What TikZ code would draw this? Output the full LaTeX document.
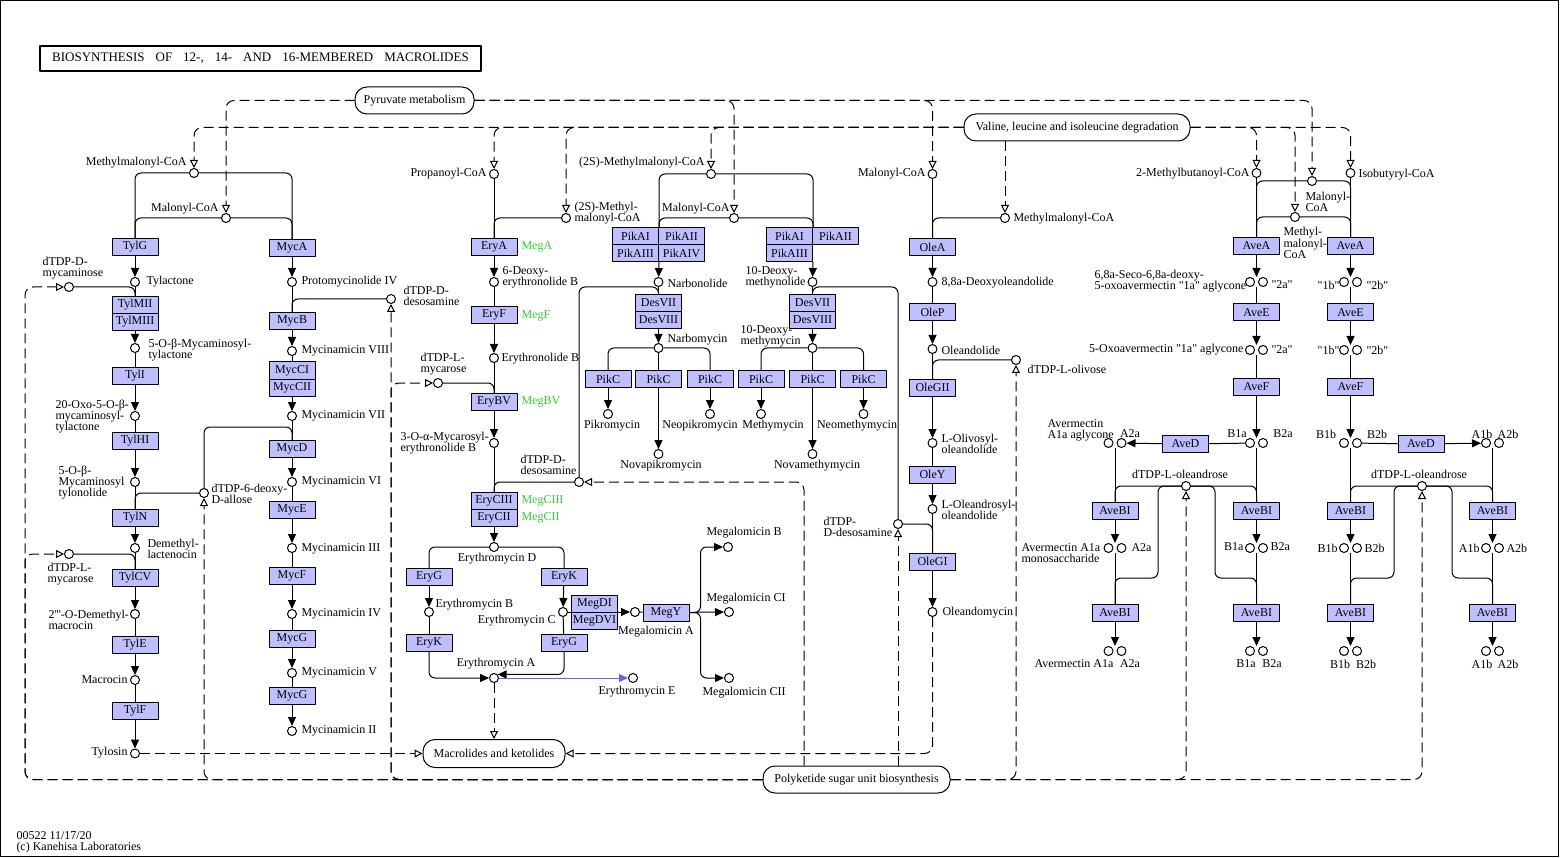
\documentclass[tikz,border=0pt]{standalone}
\usepackage{fontspec}
\setmainfont{Liberation Serif}[Ligatures=TeXOff]
\usetikzlibrary{arrows.meta}
\definecolor{enzfill}{RGB}{191,191,255}
\definecolor{keggreen}{RGB}{51,204,51}
\definecolor{keggblue}{RGB}{102,102,221}
\newcommand{\kfont}{\fontsize{12}{11}\selectfont}
% two compound circles side by side, one invisible box for the arrows
\newcommand{\cpdpair}[2]{%
  \node[pairbox] (#1) at (#2) {};
  \node[cpd] (#1-a) at ([xshift=-6.5pt]#1.center) {};
  \node[cpd] (#1-b) at ([xshift=6.5pt]#1.center) {};}
\tikzset{
  cpd/.style={circle, draw, fill=white, inner sep=0pt, minimum size=9pt},
  enz/.style={draw, fill=enzfill, inner sep=0pt, minimum width=46pt, minimum height=17pt, font=\kfont},
  pairbox/.style={inner sep=0pt, minimum width=22pt, minimum height=9pt},
  mapbox/.style={draw, rounded corners=12pt, inner sep=0pt, minimum height=27pt, font=\kfont},
  lab/.style={inner sep=0pt, font=\kfont, align=left},
  glab/.style={lab, text=keggreen},
  ln/.style={rounded corners=6pt},
  rxn/.style={ln, -{Triangle[length=9pt, width=8pt]}},
  link/.style={rounded corners=8pt, dash pattern=on 10pt off 5pt, -{Triangle[open, length=8pt, width=8pt]}},
}
\begin{document}
\begin{tikzpicture}[x=1pt, y=-1pt, line width=1pt, line join=round]

  %% ==== frame and title ====
  \draw[line width=1.2pt] (0.6,0.6) rectangle (1558.4,856.4);
  \node[draw, line width=1.5pt, minimum width=441pt, minimum height=25pt, inner sep=0pt,
        font=\fontsize{13}{13}\selectfont] (title) at (260.5,58.5)
        {\spaceskip=11pt BIOSYNTHESIS OF 12-, 14- AND 16-MEMBERED MACROLIDES};

  %% ==== map boxes ====
  \node[mapbox, minimum width=119pt] (pyr) at (414.5,100.5) {Pyruvate metabolism};
  \node[mapbox, minimum width=226pt] (val) at (1077,127.5) {Valine, leucine and isoleucine degradation};
  \node[mapbox, minimum width=142pt, minimum height=28pt] (macro) at (494,753.5) {Macrolides and ketolides};
  \node[mapbox, minimum width=187pt] (pks) at (856.5,779.5) {Polyketide sugar unit biosynthesis};

  %% ==== tylosin column ====
  \node[cpd] (c-mm1) at (194,173) {};
  \node[cpd] (c-mal1) at (226,218) {};
  \node[cpd] (c-mycam) at (69,287) {};
  \node[cpd] (c-tylac) at (135,282) {};
  \node[cpd] (c-myctyl) at (135,348) {};
  \node[cpd] (c-oxo) at (135,416) {};
  \node[cpd] (c-mycty) at (135,482) {};
  \node[cpd] (c-allose) at (204,493) {};
  \node[cpd] (c-demeth) at (135,548) {};
  \node[cpd] (c-mycar1) at (69,554) {};
  \node[cpd] (c-demmac) at (135,614) {};
  \node[cpd] (c-macrocin) at (135,680) {};
  \node[cpd] (c-tylosin) at (135,753.5) {};
  \node[enz] (tylg) at (135,247) {TylG};
  \node[enz] (tylmii) at (135,305) {TylMII};
  \node[enz] (tylmiii) at (135,322) {TylMIII};
  \node[enz] (tyli) at (135,376) {TylI};
  \node[enz] (tylhi) at (135,441) {TylHI};
  \node[enz] (tyln) at (135,518) {TylN};
  \node[enz] (tylcv) at (135,578) {TylCV};
  \node[enz] (tyle) at (135,645) {TylE};
  \node[enz] (tylf) at (135,711) {TylF};
  \node[lab, anchor=east] (l-mm1) at (187,163) {Methylmalonyl-CoA};
  \node[lab, anchor=east] (l-mal1) at (219,209) {Malonyl-CoA};
  \node[lab, anchor=west] (l-mycam) at (42,268) {dTDP-D-\\mycaminose};
  \node[lab, anchor=west] (l-tylac) at (146,282) {Tylactone};
  \node[lab, anchor=west] (l-myctyl) at (148,350) {5-O-β-Mycaminosyl-\\tylactone};
  \node[lab, anchor=west] (l-oxo) at (55,417) {20-Oxo-5-O-β-\\mycaminosyl-\\tylactone};
  \node[lab, anchor=west] (l-mycty) at (58,483) {5-O-β-\\Mycaminosyl\\tylonolide};
  \node[lab, anchor=west] (l-allose) at (211,494) {dTDP-6-deoxy-\\D-allose};
  \node[lab, anchor=west] (l-demeth) at (147,549) {Demethyl-\\lactenocin};
  \node[lab, anchor=west] (l-mycar1) at (47,574) {dTDP-L-\\mycarose};
  \node[lab, anchor=west] (l-demmac) at (48,620) {2'''-O-Demethyl-\\macrocin};
  \node[lab, anchor=east] (l-macrocin) at (128,680) {Macrocin};
  \node[lab, anchor=east] (l-tylosin) at (128,753) {Tylosin};

  %% ==== mycinamicin column ====
  \node[cpd] (c-proto) at (292,282) {};
  \node[cpd] (c-desos1) at (391,299) {};
  \node[cpd] (c-m8) at (292,351) {};
  \node[cpd] (c-m7) at (292,416) {};
  \node[cpd] (c-m6) at (292,482) {};
  \node[cpd] (c-m3) at (292,548) {};
  \node[cpd] (c-m4) at (292,614) {};
  \node[cpd] (c-m5) at (292,673) {};
  \node[cpd] (c-m2) at (292,731) {};
  \node[enz] (myca) at (292,248) {MycA};
  \node[enz] (mycb) at (292,321) {MycB};
  \node[enz] (mycci) at (292,370.5) {MycCI};
  \node[enz] (myccii) at (292,387.5) {MycCII};
  \node[enz] (mycd) at (292,449) {MycD};
  \node[enz] (myce) at (292,510) {MycE};
  \node[enz] (mycf) at (292,576) {MycF};
  \node[enz] (mycg1) at (292,639) {MycG};
  \node[enz] (mycg2) at (292,696) {MycG};
  \node[lab, anchor=west] (l-proto) at (301,282) {Protomycinolide IV};
  \node[lab, anchor=west] (l-desos1) at (403,296) {dTDP-D-\\desosamine};
  \node[lab, anchor=west] (l-m8) at (301,351) {Mycinamicin VIII};
  \node[lab, anchor=west] (l-m7) at (301,416) {Mycinamicin VII};
  \node[lab, anchor=west] (l-m6) at (301,482) {Mycinamicin VI};
  \node[lab, anchor=west] (l-m3) at (301,549) {Mycinamicin III};
  \node[lab, anchor=west] (l-m4) at (301,614) {Mycinamicin IV};
  \node[lab, anchor=west] (l-m5) at (301,673) {Mycinamicin V};
  \node[lab, anchor=west] (l-m2) at (301,731) {Mycinamicin II};

  %% ==== erythromycin column ====
  \node[cpd] (c-prop) at (494,174) {};
  \node[cpd] (c-s2mm1) at (566,218) {};
  \node[cpd] (c-deb) at (494,282) {};
  \node[cpd] (c-eb) at (494,358) {};
  \node[cpd] (c-mycar2) at (438,383) {};
  \node[cpd] (c-myceb) at (494,443) {};
  \node[cpd] (c-desos2) at (579,482) {};
  \node[cpd] (c-eryd) at (494,547) {};
  \node[cpd] (c-eryb) at (429,612) {};
  \node[cpd] (c-eryc) at (563,612) {};
  \node[cpd] (c-erya) at (494,678) {};
  \node[cpd] (c-erye) at (633,678) {};
  \node[cpd] (c-mega) at (635,612) {};
  \node[cpd] (c-megb) at (728,547) {};
  \node[cpd] (c-megci) at (729,612) {};
  \node[cpd] (c-megcii) at (729,678) {};
  \node[enz] (erya) at (494,247) {EryA};
  \node[enz] (eryf) at (494,315) {EryF};
  \node[enz] (erybv) at (494,402) {EryBV};
  \node[enz] (eryciii) at (494,501) {EryCIII};
  \node[enz] (erycii) at (494,518) {EryCII};
  \node[enz] (eryg1) at (429,577) {EryG};
  \node[enz] (eryk1) at (564,577) {EryK};
  \node[enz] (eryk2) at (429,643) {EryK};
  \node[enz] (eryg2) at (564,643) {EryG};
  \node[enz] (megdi) at (594.5,604) {MegDI};
  \node[enz] (megdvi) at (594.5,621) {MegDVI};
  \node[enz] (megy) at (666,612.5) {MegY};
  \node[lab, anchor=east] (l-prop) at (487,174) {Propanoyl-CoA};
  \node[lab, anchor=west] (l-s2mm1) at (574,213) {(2S)-Methyl-\\malonyl-CoA};
  \node[glab, anchor=west] (g-mega) at (521,247) {MegA};
  \node[lab, anchor=west] (l-deb) at (502,277) {6-Deoxy-\\erythronolide B};
  \node[glab, anchor=west] (g-megf) at (521,316) {MegF};
  \node[lab, anchor=west] (l-eb) at (501,359) {Erythronolide B};
  \node[lab, anchor=west] (l-mycar2) at (420,364) {dTDP-L-\\mycarose};
  \node[glab, anchor=west] (g-megbv) at (521,402) {MegBV};
  \node[lab, anchor=west] (l-myceb) at (400,443) {3-O-α-Mycarosyl-\\erythronolide B};
  \node[lab, anchor=west] (l-desos2) at (520,465) {dTDP-D-\\desosamine};
  \node[glab, anchor=west] (g-megciii) at (521,501) {MegCIII};
  \node[glab, anchor=west] (g-megcii) at (521,518) {MegCII};
  \node[lab] (l-eryd) at (497,559) {Erythromycin D};
  \node[lab, anchor=west] (l-eryb) at (435,605) {Erythromycin B};
  \node[lab, anchor=east] (l-eryc) at (556,621) {Erythromycin C};
  \node[lab] (l-erya) at (496,664) {Erythromycin A};
  \node[lab] (l-erye) at (637,692) {Erythromycin E};
  \node[lab] (l-mega) at (656,632) {Megalomicin A};
  \node[lab, anchor=west] (l-megb) at (706,533) {Megalomicin B};
  \node[lab, anchor=west] (l-megci) at (706,599) {Megalomicin CI};
  \node[lab, anchor=west] (l-megcii) at (702,693) {Megalomicin CII};

  %% ==== pikromycin / methymycin ====
  \node[cpd] (c-s2mm2) at (711,174) {};
  \node[cpd] (c-mal2) at (734,218) {};
  \node[cpd] (c-narbo) at (658.5,282) {};
  \node[cpd] (c-narbom) at (658.5,348) {};
  \node[cpd] (c-pikro) at (608,414) {};
  \node[cpd] (c-neopik) at (710,414) {};
  \node[cpd] (c-novapik) at (658.5,454) {};
  \node[cpd] (c-dmn) at (812.5,282) {};
  \node[cpd] (c-dmm) at (812.5,348) {};
  \node[cpd] (c-methy) at (761,414) {};
  \node[cpd] (c-neometh) at (863.5,414) {};
  \node[cpd] (c-novameth) at (812.5,454) {};
  \node[cpd] (c-dsm3) at (898,524) {};
  \node[enz] (pikai1) at (635.5,236) {PikAI};
  \node[enz] (pikaii1) at (681.5,236) {PikAII};
  \node[enz] (pikaiii1) at (635.5,253) {PikAIII};
  \node[enz] (pikaiv1) at (681.5,253) {PikAIV};
  \node[enz] (desvii1) at (658.5,303) {DesVII};
  \node[enz] (desviii1) at (658.5,320) {DesVIII};
  \node[enz] (pikc1) at (608,379) {PikC};
  \node[enz] (pikc2) at (658.5,379) {PikC};
  \node[enz] (pikc3) at (710,379) {PikC};
  \node[enz] (pikai2) at (789.5,236) {PikAI};
  \node[enz] (pikaii2) at (835.5,236) {PikAII};
  \node[enz] (pikaiii2) at (789.5,253) {PikAIII};
  \node[enz] (desvii2) at (812.5,303) {DesVII};
  \node[enz] (desviii2) at (812.5,320) {DesVIII};
  \node[enz] (pikc4) at (761,379) {PikC};
  \node[enz] (pikc5) at (812.5,379) {PikC};
  \node[enz] (pikc6) at (863.5,379) {PikC};
  \node[lab, anchor=east] (l-s2mm2) at (705,163) {(2S)-Methylmalonyl-CoA};
  \node[lab, anchor=east] (l-mal2) at (730,209) {Malonyl-CoA};
  \node[lab, anchor=west] (l-narbo) at (667,283) {Narbonolide};
  \node[lab, anchor=west] (l-narbom) at (667,340) {Narbomycin};
  \node[lab] (l-pikro) at (612,426) {Pikromycin};
  \node[lab] (l-neopik) at (700,426) {Neopikromycin};
  \node[lab] (l-novapik) at (661,466) {Novapikromycin};
  \node[lab, anchor=west] (l-dmn) at (745,277) {10-Deoxy-\\methynolide};
  \node[lab, anchor=west] (l-dmm) at (740,336) {10-Deoxy-\\methymycin};
  \node[lab] (l-methy) at (773,426) {Methymycin};
  \node[lab] (l-neometh) at (857,426) {Neomethymycin};
  \node[lab] (l-novameth) at (817,466) {Novamethymycin};
  \node[lab, anchor=west] (l-dsm3) at (823,527) {dTDP-\\D-desosamine};

  %% ==== oleandomycin column ====
  \node[cpd] (c-mal3) at (932.5,174) {};
  \node[cpd] (c-mm3) at (1005,218) {};
  \node[cpd] (c-ddol) at (932.5,282) {};
  \node[cpd] (c-oleand) at (932.5,349) {};
  \node[cpd] (c-olivose) at (1016,360) {};
  \node[cpd] (c-olivosyl) at (932.5,443) {};
  \node[cpd] (c-oleandrosyl) at (932.5,509) {};
  \node[cpd] (c-oleandomycin) at (932.5,612) {};
  \node[enz] (olea) at (932.5,247) {OleA};
  \node[enz] (olep) at (932.5,312.5) {OleP};
  \node[enz] (olegii) at (932.5,387.5) {OleGII};
  \node[enz] (oley) at (932.5,474.5) {OleY};
  \node[enz] (olegi) at (932.5,561.5) {OleGI};
  \node[lab, anchor=east] (l-mal3) at (926,174) {Malonyl-CoA};
  \node[lab, anchor=west] (l-mm3) at (1013,219) {Methylmalonyl-CoA};
  \node[lab, anchor=west] (l-ddol) at (941,283) {8,8a-Deoxyoleandolide};
  \node[lab, anchor=west] (l-oleand) at (941,350) {Oleandolide};
  \node[lab, anchor=west] (l-olivose) at (1027,369) {dTDP-L-olivose};
  \node[lab, anchor=west] (l-olivosyl) at (941,444) {L-Olivosyl-\\oleandolide};
  \node[lab, anchor=west] (l-oleandrosyl) at (941,510) {L-Oleandrosyl-\\oleandolide};
  \node[lab, anchor=west] (l-oleandomycin) at (942,613) {Oleandomycin};

  %% ==== avermectin ====
  \node[cpd] (c-mbcoa) at (1256.5,173) {};
  \node[cpd] (c-ibcoa) at (1350.5,173) {};
  \node[cpd] (c-mal4) at (1312,181) {};
  \node[cpd] (c-mm4) at (1295,217) {};
  \node[cpd] (c-oleandr1) at (1186,486) {};
  \node[cpd] (c-oleandr2) at (1422,486) {};
  \cpdpair{p-seco}{1256.5,282}
  \cpdpair{p-seco2}{1350.5,282}
  \cpdpair{p-oxo}{1256.5,350}
  \cpdpair{p-oxo2}{1350.5,350}
  \cpdpair{p-b1a}{1256.5,443}
  \cpdpair{p-b1b}{1350.5,443}
  \cpdpair{p-a1a}{1115,443}
  \cpdpair{p-a1b}{1492.5,443}
  \cpdpair{p-mono}{1115,548}
  \cpdpair{p-b1a2}{1256.5,548}
  \cpdpair{p-b1b2}{1350.5,548}
  \cpdpair{p-a1b2}{1492.5,548}
  \cpdpair{p-fin1}{1115,651}
  \cpdpair{p-fin2}{1256.5,651}
  \cpdpair{p-fin3}{1350.5,651}
  \cpdpair{p-fin4}{1492.5,651}
  \node[enz] (avea1) at (1256.5,246) {AveA};
  \node[enz] (avea2) at (1350.5,246) {AveA};
  \node[enz] (avee1) at (1256.5,312.5) {AveE};
  \node[enz] (avee2) at (1350.5,312.5) {AveE};
  \node[enz] (avef1) at (1256.5,386.5) {AveF};
  \node[enz] (avef2) at (1350.5,386.5) {AveF};
  \node[enz] (aved1) at (1185.5,444) {AveD};
  \node[enz] (aved2) at (1421,444) {AveD};
  \node[enz] (avebi1) at (1115,511) {AveBI};
  \node[enz] (avebi2) at (1256.5,511) {AveBI};
  \node[enz] (avebi3) at (1350.5,511) {AveBI};
  \node[enz] (avebi4) at (1492.5,511) {AveBI};
  \node[enz] (avebi5) at (1115,613) {AveBI};
  \node[enz] (avebi6) at (1256.5,613) {AveBI};
  \node[enz] (avebi7) at (1350.5,613) {AveBI};
  \node[enz] (avebi8) at (1492.5,613) {AveBI};
  \node[lab, anchor=east] (l-mbcoa) at (1250,174) {2-Methylbutanoyl-CoA};
  \node[lab, anchor=west] (l-ibcoa) at (1358,175) {Isobutyryl-CoA};
  \node[lab, anchor=west, font=\fontsize{12}{10}\selectfont] (l-mal4) at (1305,202) {Malonyl-\\CoA};
  \node[lab, anchor=west, font=\fontsize{12}{10}\selectfont] (l-mm4) at (1283,243) {Methyl-\\malonyl-\\CoA};
  \node[lab, anchor=west] (l-seco) at (1094,281) {6,8a-Seco-6,8a-deoxy-\\5-oxoavermectin "1a" aglycone};
  \node[lab, anchor=west] (l-seco-2a) at (1271,285) {"2a"};
  \node[lab, anchor=east] (l-seco-1b) at (1340,285) {"1b"};
  \node[lab, anchor=west] (l-seco-2b) at (1366,285) {"2b"};
  \node[lab, anchor=east] (l-oxo5) at (1244,350) {5-Oxoavermectin "1a" aglycone};
  \node[lab, anchor=west] (l-oxo-2a) at (1271,350) {"2a"};
  \node[lab, anchor=east] (l-oxo-1b) at (1340,350) {"1b"};
  \node[lab, anchor=west] (l-oxo-2b) at (1366,350) {"2b"};
  \node[lab] (l-b1a) at (1237,434) {B1a};
  \node[lab] (l-b2a) at (1283,434) {B2a};
  \node[lab] (l-b1b) at (1326,434) {B1b};
  \node[lab] (l-b2b) at (1377,434) {B2b};
  \node[lab, anchor=west] (l-a1aag) at (1047,430) {Avermectin\\A1a aglycone};
  \node[lab] (l-a2a) at (1130,434) {A2a};
  \node[lab] (l-a1b) at (1482,434) {A1b};
  \node[lab] (l-a2b) at (1508,434) {A2b};
  \node[lab] (l-ole1) at (1180,474) {dTDP-L-oleandrose};
  \node[lab] (l-ole2) at (1419,474) {dTDP-L-oleandrose};
  \node[lab, anchor=west] (l-mono) at (1021,553) {Avermectin A1a\\monosaccharide};
  \node[lab, anchor=west] (l-mono-2a) at (1131,548) {A2a};
  \node[lab, anchor=east] (l-b1a2) at (1244,547) {B1a};
  \node[lab, anchor=west] (l-b2a2) at (1270,547) {B2a};
  \node[lab, anchor=east] (l-b1b2) at (1338,548) {B1b};
  \node[lab, anchor=west] (l-b2b2) at (1364,548) {B2b};
  \node[lab, anchor=east] (l-a1b2) at (1480,548) {A1b};
  \node[lab, anchor=west] (l-a2b2) at (1506,548) {A2b};
  \node[lab] (l-fin1a) at (1074,664) {Avermectin A1a};
  \node[lab] (l-fin1b) at (1130,664) {A2a};
  \node[lab] (l-fin2a) at (1246,664) {B1a};
  \node[lab] (l-fin2b) at (1272,664) {B2a};
  \node[lab] (l-fin3a) at (1340,664) {B1b};
  \node[lab] (l-fin3b) at (1366,664) {B2b};
  \node[lab] (l-fin4a) at (1482,664) {A1b};
  \node[lab] (l-fin4b) at (1508,664) {A2b};

  \node[lab, anchor=west] (l-foot) at (16,842) {00522 11/17/20\\(c) Kanehisa Laboratories};

  %% ==== reactions: tylosin / mycinamicin ====
  \draw[ln] (c-mm1) -| (tylg);   \draw[ln] (c-mm1) -| (myca);
  \draw[ln] (c-mal1) -| (tylg);  \draw[ln] (c-mal1) -| (myca);
  \draw[rxn] (tylg) -- (c-tylac);
  \draw (c-tylac) -- (tylmii);
  \draw[ln] (c-mycam) -| (tylmii);
  \draw[rxn] (tylmiii) -- (c-myctyl);
  \draw (c-myctyl) -- (tyli);
  \draw[rxn] (tyli) -- (c-oxo);
  \draw (c-oxo) -- (tylhi);
  \draw[rxn] (tylhi) -- (c-mycty);
  \draw (c-mycty) -- (tyln);
  \draw[ln] (c-allose) -| (tyln);
  \draw[ln] (c-allose) -- (204,427) -| (mycd);
  \draw[rxn] (tyln) -- (c-demeth);
  \draw (c-demeth) -- (tylcv);
  \draw[ln] (c-mycar1) -| (tylcv);
  \draw[rxn] (tylcv) -- (c-demmac);
  \draw (c-demmac) -- (tyle);
  \draw[rxn] (tyle) -- (c-macrocin);
  \draw (c-macrocin) -- (tylf);
  \draw[rxn] (tylf) -- (c-tylosin);

  \draw[rxn] (myca) -- (c-proto);
  \draw (c-proto) -- (mycb);
  \draw[ln] (c-desos1) -| (mycb);
  \draw[rxn] (mycb) -- (c-m8);
  \draw (c-m8) -- (mycci);
  \draw[rxn] (myccii) -- (c-m7);
  \draw (c-m7) -- (mycd);
  \draw[rxn] (mycd) -- (c-m6);
  \draw (c-m6) -- (myce);
  \draw[rxn] (myce) -- (c-m3);
  \draw (c-m3) -- (mycf);
  \draw[rxn] (mycf) -- (c-m4);
  \draw (c-m4) -- (mycg1);
  \draw[rxn] (mycg1) -- (c-m5);
  \draw (c-m5) -- (mycg2);
  \draw[rxn] (mycg2) -- (c-m2);

  %% ==== reactions: erythromycin / megalomicin ====
  \draw (c-prop) -- (erya);
  \draw[ln] (c-s2mm1) -| (erya);
  \draw[rxn] (erya) -- (c-deb);
  \draw (c-deb) -- (eryf);
  \draw[rxn] (eryf) -- (c-eb);
  \draw (c-eb) -- (erybv);
  \draw[ln] (c-mycar2) -| (erybv);
  \draw[rxn] (erybv) -- (c-myceb);
  \draw (c-myceb) -- (eryciii);
  \draw[ln] (c-desos2) -| (eryciii);
  \draw[ln] (c-desos2) -- (579,287) -| (desvii1);
  \draw[rxn] (erycii) -- (c-eryd);
  \draw[ln] (c-eryd) -| (eryg1);
  \draw[ln] (c-eryd) -| (eryk1);
  \draw[rxn] (eryg1) -- (c-eryb);
  \draw (c-eryb) -- (eryk2);
  \draw[rxn] (eryk2) |- (c-erya);
  \draw[rxn] (eryk1) -- (c-eryc);
  \draw (c-eryc) -- (eryg2);
  \draw[rxn] (eryg2) |- (c-erya.north east);
  \draw[rxn, keggblue] (c-erya) -- (c-erye);
  \draw[rxn] (c-eryc) -- (c-mega);
  \draw (c-mega) -- (megy);
  \draw[rxn] (megy) -- (c-megci);
  \draw[rxn] (megy.east) -- ++(11,0) |- (c-megb);
  \draw[rxn] (megy.east) -- ++(11,0) |- (c-megcii);

  %% ==== reactions: pikromycin / methymycin ====
  \draw[ln] (c-s2mm2) -| (pikai1.north east);
  \draw[ln] (c-s2mm2) -| (pikai2.north east);
  \draw[ln] (c-mal2) -| (pikai1.north east);
  \draw[ln] (c-mal2) -| (pikai2.north east);
  \draw[rxn] (pikaiii1.south east) -- (c-narbo);
  \draw (c-narbo) -- (desvii1);
  \draw[rxn] (desviii1) -- (c-narbom);
  \draw[ln] (c-narbom) -| (pikc1);
  \draw (c-narbom) -- (pikc2);
  \draw[ln] (c-narbom) -| (pikc3);
  \draw[rxn] (pikc1) -- (c-pikro);
  \draw[rxn] (pikc2) -- (c-novapik);
  \draw[rxn] (pikc3) -- (c-neopik);
  \draw[rxn] (pikaiii2.south east) -- (c-dmn);
  \draw (c-dmn) -- (desvii2);
  \draw[ln] (c-dsm3) -- (898,287) -| (desvii2);
  \draw[rxn] (desviii2) -- (c-dmm);
  \draw[ln] (c-dmm) -| (pikc4);
  \draw (c-dmm) -- (pikc5);
  \draw[ln] (c-dmm) -| (pikc6);
  \draw[rxn] (pikc4) -- (c-methy);
  \draw[rxn] (pikc5) -- (c-novameth);
  \draw[rxn] (pikc6) -- (c-neometh);

  %% ==== reactions: oleandomycin ====
  \draw (c-mal3) -- (olea);
  \draw[ln] (c-mm3) -| (olea);
  \draw[rxn] (olea) -- (c-ddol);
  \draw (c-ddol) -- (olep);
  \draw[rxn] (olep) -- (c-oleand);
  \draw (c-oleand) -- (olegii);
  \draw[ln] (c-olivose) -| (olegii);
  \draw[rxn] (olegii) -- (c-olivosyl);
  \draw (c-olivosyl) -- (oley);
  \draw[rxn] (oley) -- (c-oleandrosyl);
  \draw (c-oleandrosyl) -- (olegi);
  \draw[ln] (c-dsm3) -| (olegi);
  \draw[rxn] (olegi) -- (c-oleandomycin);

  %% ==== reactions: avermectin ====
  \draw (c-mbcoa) -- (avea1);
  \draw (c-ibcoa) -- (avea2);
  \draw[ln] (c-mal4) -| (avea1);  \draw[ln] (c-mal4) -| (avea2);
  \draw[ln] (c-mm4) -| (avea1);   \draw[ln] (c-mm4) -| (avea2);
  \draw[rxn] (avea1) -- (p-seco);
  \draw[rxn] (avea2) -- (p-seco2);
  \draw (p-seco) -- (avee1);
  \draw (p-seco2) -- (avee2);
  \draw[rxn] (avee1) -- (p-oxo);
  \draw[rxn] (avee2) -- (p-oxo2);
  \draw (p-oxo) -- (avef1);
  \draw (p-oxo2) -- (avef2);
  \draw[rxn] (avef1) -- (p-b1a);
  \draw[rxn] (avef2) -- (p-b1b);
  \draw (p-b1a) -- (aved1);
  \draw[rxn] (aved1) -- (p-a1a);
  \draw (p-b1b) -- (aved2);
  \draw[rxn] (aved2) -- (p-a1b);
  \draw (p-a1a) -- (avebi1);
  \draw (p-b1a) -- (avebi2);
  \draw (p-b1b) -- (avebi3);
  \draw (p-a1b) -- (avebi4);
  \draw[ln] (c-oleandr1) -| (avebi1);
  \draw[ln] (c-oleandr1) -| (avebi2);
  \draw[ln] (c-oleandr2) -| (avebi3);
  \draw[ln] (c-oleandr2) -| (avebi4);
  \draw[rxn] (avebi1) -- (p-mono);
  \draw[rxn] (avebi2) -- (p-b1a2);
  \draw[rxn] (avebi3) -- (p-b1b2);
  \draw[rxn] (avebi4) -- (p-a1b2);
  \draw (p-mono) -- (avebi5);
  \draw (p-b1a2) -- (avebi6);
  \draw (p-b1b2) -- (avebi7);
  \draw (p-a1b2) -- (avebi8);
  \draw[ln] (c-oleandr1) -| (1158,578) -| (avebi5);
  \draw[ln] (c-oleandr1) -| (1215,578) -| (avebi6);
  \draw[ln] (c-oleandr2) -| (1394,578) -| (avebi7);
  \draw[ln] (c-oleandr2) -| (1452,578) -| (avebi8);
  \draw[rxn] (avebi5) -- (p-fin1);
  \draw[rxn] (avebi6) -- (p-fin2);
  \draw[rxn] (avebi7) -- (p-fin3);
  \draw[rxn] (avebi8) -- (p-fin4);

  %% ==== map links (dashed) ====
  \draw[link] (pyr) -| (c-mal1);
  \draw[link] (pyr) -| (c-mal2);
  \draw[link] (pyr) -| (c-mal3);
  \draw[link] (pyr) -| (c-mal4);
  \draw[link] (val) -| (c-mm1);
  \draw[link] (val) -| (c-prop);
  \draw[link] (val) -| (c-s2mm1);
  \draw[link] (val) -| (c-s2mm2);
  \draw[link] (val.south -| c-mm3) -- (c-mm3);
  \draw[link] (val) -| (c-mbcoa);
  \draw[link] (val) -| (c-mm4);
  \draw[link] (val) -| (c-ibcoa);
  \draw[link] (pks) -| (25,287) -- (c-mycam);
  \draw[link] (pks) -| (25,554) -- (c-mycar1);
  \draw[link] (pks) -| (c-allose);
  \draw[link] (pks) -| (c-desos1);
  \draw[link] (pks) -| (391,383) -- (c-mycar2);
  \draw[link] ([xshift=-52.5pt]pks.north) |- (c-desos2);
  \draw[link] (c-dsm3 |- pks.north) -- (c-dsm3);
  \draw[link] (pks) -| (c-olivose);
  \draw[link] (pks) -| (c-oleandr1);
  \draw[link] (pks) -| (c-oleandr2);
  \draw[link] (c-tylosin) -- (macro);
  \draw[link] (c-erya) -- (macro);
  \draw[link] (c-oleandomycin) |- (macro);

  \pgfresetboundingbox
  \path[use as bounding box] (0,0) rectangle (1563,858);
\end{tikzpicture}
\end{document}
